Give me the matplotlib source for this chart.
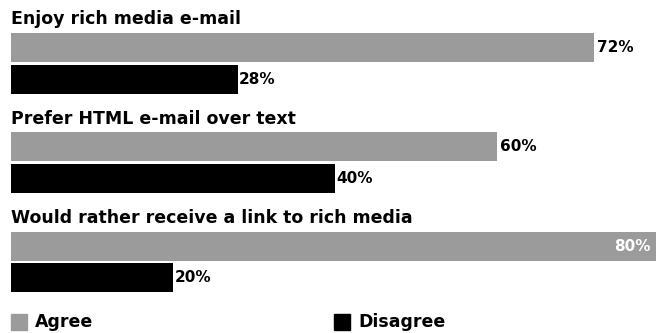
import matplotlib.pyplot as plt
from matplotlib.patches import Rectangle

questions = ["Enjoy rich media e-mail",
             "Prefer HTML e-mail over text",
             "Would rather receive a link to rich media"]
agree = [72, 60, 80]
disagree = [28, 40, 20]
series_names = ["Agree", "Disagree"]

GRAY = "#9b9b9b"
BLACK = "#000000"

fig = plt.figure(figsize=(6.56, 3.33), dpi=100)
fig.patch.set_facecolor("white")
# axis in pixel-like vertical units, x in percent
ax = fig.add_axes([11 / 656, 0, 1 - 11 / 656, 1])
ax.set_xlim(0, 79.7)
ax.set_ylim(333, 0)
ax.axis("off")

step = 99.3
bar_h = 29
for i, q in enumerate(questions):
    yg = 47.5 + step * i
    yd = yg + 31.5
    ax.barh(yg, agree[i], height=bar_h, color=GRAY)
    ax.barh(yd, disagree[i], height=bar_h, color=BLACK)
    ax.text(0, yg - 23, q, fontsize=12.5, fontweight="heavy", va="baseline", ha="left")
    if agree[i] >= 78:
        ax.text(agree[i] - 1.0, yg, f"{agree[i]}%", fontsize=11, fontweight="bold",
                color="white", va="center", ha="right")
    else:
        ax.text(agree[i] + 0.4, yg, f"{agree[i]}%", fontsize=11, fontweight="bold",
                va="center", ha="left")
    ax.text(disagree[i] + 0.2, yd, f"{disagree[i]}%", fontsize=11, fontweight="bold",
            va="center", ha="left")

# legend
for x0, col, name in [(11, GRAY, series_names[0]), (334, BLACK, series_names[1])]:
    fig.patches.append(Rectangle((x0 / 656, 3 / 333), 16 / 656, 16 / 333,
                                 transform=fig.transFigure, color=col))
    fig.text((x0 + 24) / 656, 6 / 333, name, fontsize=12.5,
             fontweight="heavy", va="baseline", ha="left")

fig.savefig("out.png", dpi=100, facecolor="white")
